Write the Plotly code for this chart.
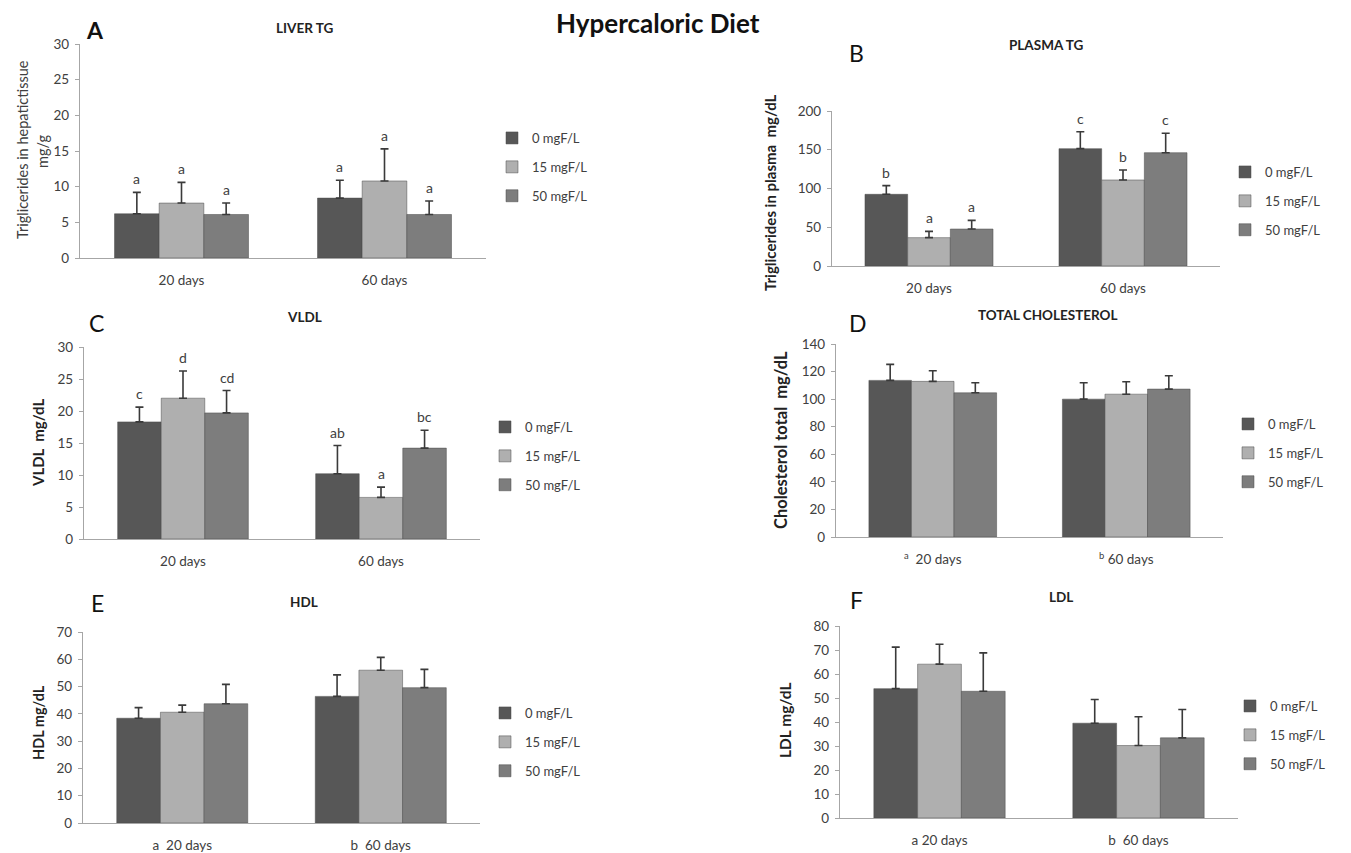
import plotly.graph_objects as go

W, H = 1351, 853

# ---------------- data ----------------
categories = ["20 days", "60 days"]
doses = ["0 mgF/L", "15 mgF/L", "50 mgF/L"]

# values per dose: [20 days, 60 days]
liver_tg_mean = [[6.2, 8.4], [7.7, 10.8], [6.1, 6.1]]
liver_tg_sd = [[3.0, 2.5], [2.9, 4.5], [1.6, 1.9]]
liver_tg_letters = [["a", "a"], ["a", "a"], ["a", "a"]]

plasma_tg_mean = [[92.5, 151.4], [36.6, 111.0], [47.7, 146.2]]
plasma_tg_sd = [[11.2, 21.9], [8.1, 12.9], [11.2, 25.0]]
plasma_tg_letters = [["b", "c"], ["a", "b"], ["a", "c"]]

vldl_mean = [[18.3, 10.2], [22.0, 6.5], [19.7, 14.2]]
vldl_sd = [[2.3, 4.4], [4.25, 1.6], [3.5, 2.8]]
vldl_letters = [["c", "ab"], ["d", "a"], ["cd", "bc"]]

chol_mean = [[113.6, 100.0], [112.9, 103.6], [104.6, 107.3]]
chol_sd = [[11.6, 11.9], [7.7, 9.0], [7.3, 9.7]]
chol_ticklabels = ["<sup>a</sup>  20 days", "<sup>b</sup> 60 days"]

hdl_mean = [[38.4, 46.4], [40.6, 56.0], [43.7, 49.6]]
hdl_sd = [[3.9, 7.9], [2.6, 4.7], [7.1, 6.7]]
hdl_ticklabels = ["a  20 days", "b  60 days"]

ldl_mean = [[53.9, 39.5], [64.1, 30.2], [52.8, 33.4]]
ldl_sd = [[17.3, 9.9], [8.3, 12.0], [16.0, 11.8]]
ldl_ticklabels = ["a 20 days", "b  60 days"]

# ---------------- style ----------------
dose_colors = ["#575757", "#afafaf", "#7d7d7d"]
FONT = "Lato, Carlito, 'Open Sans', sans-serif"
TXT = "#404040"
AXIS = "#a6a6a6"
BARGAP = 0.34
BAR_W = (1 - BARGAP) / 3

panels = [
    dict(mean=liver_tg_mean, sd=liver_tg_sd, letters=liver_tg_letters, ticks=categories,
         title="LIVER TG", tag="A", tagbold=True, ymax=30, dtick=5,
         box=(80, 486, 44, 258), tpos=(304, 28), tagpos=(95, 30),
         ytitle=None, leg=(527, 123)),
    dict(mean=plasma_tg_mean, sd=plasma_tg_sd, letters=plasma_tg_letters, ticks=categories,
         title="PLASMA TG", tag="B", tagbold=False, ymax=200, dtick=50,
         box=(832, 1220, 111, 266), tpos=(1046, 45), tagpos=(856, 53),
         ytitle=("Triglicerides in plasma  mg/dL", 770, 193, 15), leg=(1260, 157)),
    dict(mean=vldl_mean, sd=vldl_sd, letters=vldl_letters, ticks=categories,
         title="VLDL", tag="C", tagbold=False, ymax=30, dtick=5,
         box=(84, 480, 347, 539), tpos=(304, 317), tagpos=(96, 323),
         ytitle=("VLDL  mg/dL", 38, 443, 15), leg=(520, 412)),
    dict(mean=chol_mean, sd=chol_sd, letters=None, ticks=chol_ticklabels,
         title="TOTAL CHOLESTEROL", tag="D", tagbold=False, ymax=140, dtick=20,
         box=(836, 1223, 344, 537), tpos=(1048, 315), tagpos=(858, 323),
         ytitle=("Cholesterol total  mg/dL", 781, 440, 16.5), leg=(1263, 409)),
    dict(mean=hdl_mean, sd=hdl_sd, letters=None, ticks=hdl_ticklabels,
         title="HDL", tag="E", tagbold=False, ymax=70, dtick=10,
         box=(83, 480, 632, 823), tpos=(304, 602), tagpos=(97, 603),
         ytitle=("HDL mg/dL", 38, 723, 14.5), leg=(520, 698)),
    dict(mean=ldl_mean, sd=ldl_sd, letters=None, ticks=ldl_ticklabels,
         title="LDL", tag="F", tagbold=False, ymax=80, dtick=10,
         box=(840, 1238, 626, 818), tpos=(1061, 597), tagpos=(856, 600),
         ytitle=("LDL mg/dL", 785, 720, 15.5), leg=(1265, 691)),
]


def px(x):
    return x / W


def py(y):
    return 1 - y / H


fig = go.Figure()
annotations = []
layout = dict(
    width=W, height=H, margin=dict(l=0, r=0, t=0, b=0, pad=0, autoexpand=False),
    paper_bgcolor="white", plot_bgcolor="white",
    barmode="group", bargap=BARGAP, bargroupgap=0,
    font=dict(family=FONT, color=TXT, size=13),
)

xpos = list(range(len(categories)))

for pi, p in enumerate(panels):
    n = "" if pi == 0 else str(pi + 1)
    xa, ya = "x" + n, "y" + n
    legname = "legend" + n
    x0, x1, yt, yb = p["box"]
    for k, dose in enumerate(doses):
        fig.add_trace(go.Bar(
            x=xpos, y=p["mean"][k], name=dose,
            marker=dict(color=dose_colors[k], line=dict(color="#4a4a4a", width=0.5)),
            error_y=dict(type="data", symmetric=False, array=p["sd"][k],
                         arrayminus=[0] * len(xpos), color="#3a3a3a",
                         thickness=1.6, width=4),
            xaxis=xa, yaxis=ya, legend=legname, legendgroup=f"{pi}-{k}",
            hoverinfo="skip",
        ))
        if p["letters"]:
            for i in xpos:
                annotations.append(dict(
                    x=i + (k - 1) * BAR_W, y=p["mean"][k][i] + p["sd"][k][i],
                    xref=xa, yref=ya, text=p["letters"][k][i], showarrow=False,
                    yanchor="bottom", yshift=3, font=dict(size=14, color=TXT)))
    layout["xaxis" + n] = dict(
        domain=[px(x0), px(x1)], anchor=ya, range=[-0.5, len(categories) - 0.5],
        tickvals=xpos, ticktext=p["ticks"], showline=True, linecolor=AXIS,
        linewidth=1.3, ticks="", showgrid=False, zeroline=False,
        tickfont=dict(size=13.5, color=TXT), ticklabelstandoff=10, fixedrange=True)
    layout["yaxis" + n] = dict(
        domain=[py(yb), py(yt)], anchor=xa, range=[0, p["ymax"]], dtick=p["dtick"],
        showline=True, linecolor=AXIS, linewidth=1.3, ticks="outside", ticklen=4,
        tickcolor=AXIS, showgrid=False, zeroline=False,
        tickfont=dict(size=13.5, color=TXT), ticklabelstandoff=3, fixedrange=True)
    lx, ly = p["leg"]
    layout[legname] = dict(
        x=px(lx - 35), y=py(ly), xanchor="left", yanchor="top",
        font=dict(size=13, color=TXT), tracegroupgap=9, bgcolor="rgba(0,0,0,0)",
        itemclick=False, itemdoubleclick=False)
    # panel title
    tx, ty = p["tpos"]
    annotations.append(dict(x=px(tx), y=py(ty), xref="paper", yref="paper",
                            text="<b>" + p["title"] + "</b>", showarrow=False,
                            xanchor="center", yanchor="middle",
                            font=dict(size=13.5, color="#222222")))
    # panel letter
    gx, gy = p["tagpos"]
    tag = "<b>" + p["tag"] + "</b>" if p["tagbold"] else p["tag"]
    annotations.append(dict(x=px(gx), y=py(gy), xref="paper", yref="paper",
                            text=tag, showarrow=False, xanchor="center",
                            yanchor="middle", font=dict(size=23, color="#111111")))
    if p["ytitle"]:
        t, ax_, ay_, fs = p["ytitle"]
        annotations.append(dict(x=px(ax_), y=py(ay_), xref="paper", yref="paper",
                                text="<b>" + t + "</b>", showarrow=False, textangle=-90,
                                xanchor="center", yanchor="middle",
                                font=dict(size=fs, color="#222222")))

# two-line y title of panel A
annotations.append(dict(x=px(22), y=py(150), xref="paper", yref="paper",
                        text="Triglicerides in hepatictissue", showarrow=False,
                        textangle=-90, xanchor="center", yanchor="middle",
                        font=dict(size=14.5, color=TXT)))
annotations.append(dict(x=px(42), y=py(152), xref="paper", yref="paper",
                        text="mg/g", showarrow=False, textangle=-90,
                        xanchor="center", yanchor="middle",
                        font=dict(size=14.5, color=TXT)))
# main title
annotations.append(dict(x=px(658), y=py(23), xref="paper", yref="paper",
                        text="<b>Hypercaloric Diet</b>", showarrow=False,
                        xanchor="center", yanchor="middle",
                        font=dict(size=26, color="#111111")))

layout["annotations"] = annotations
fig.update_layout(**layout)
fig.write_html(
    "out.html",
    config={"displayModeBar": False, "staticPlot": False},
    post_script="document.body.style.margin='0';document.body.style.overflow='hidden';",
)
